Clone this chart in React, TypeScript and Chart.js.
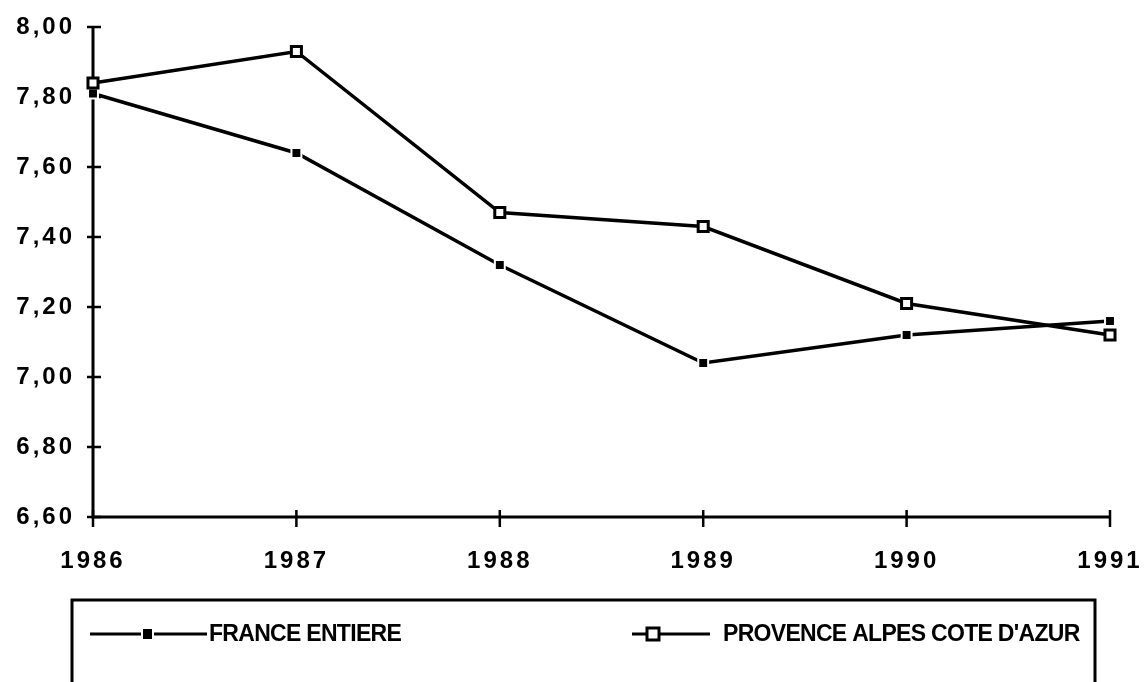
import React, { useEffect, useRef } from 'react';
import { Chart, registerables } from 'chart.js';

Chart.register(...registerables);

const years = ['1986', '1987', '1988', '1989', '1990', '1991'];
const franceEntiere = [7.81, 7.64, 7.32, 7.04, 7.12, 7.16];
const provenceAlpesCoteDAzur = [7.84, 7.93, 7.47, 7.43, 7.21, 7.12];
const seriesLabels = ['FRANCE ENTIERE', "PROVENCE ALPES COTE D'AZUR"];
const yMin = 6.6;
const yMax = 8.0;
const yStep = 0.2;

const W = 1148;
const H = 682;
const AREA_LEFT = 93;
const AREA_RIGHT = 1110;
const AREA_TOP = 27;
const AREA_BOTTOM = 517;

const spacingPlugin = {
  id: 'letterSpacing',
  beforeLayout(chart: any) {
    chart.ctx.letterSpacing = '3px';
  },
  beforeDraw(chart: any) {
    chart.ctx.letterSpacing = '3px';
  },
};

const axesPlugin = {
  id: 'crossAxes',
  beforeDatasetsDraw(chart: any) {
    const { ctx, chartArea, scales } = chart;
    const x = scales.x;
    const y = scales.y;
    ctx.save();
    ctx.strokeStyle = '#000';
    ctx.lineWidth = 3;
    ctx.beginPath();
    ctx.moveTo(chartArea.left, y.getPixelForValue(yMax));
    ctx.lineTo(chartArea.left, chartArea.bottom);
    ctx.lineTo(chartArea.right, chartArea.bottom);
    ctx.stroke();
    ctx.lineWidth = 2.5;
    ctx.beginPath();
    y.ticks.forEach((_t: any, i: number) => {
      const py = y.getPixelForTick(i);
      ctx.moveTo(chartArea.left - 6, py);
      ctx.lineTo(chartArea.left + 8, py);
    });
    x.ticks.forEach((_t: any, i: number) => {
      const px = x.getPixelForTick(i);
      ctx.moveTo(px, chartArea.bottom - 7);
      ctx.lineTo(px, chartArea.bottom + 10);
    });
    ctx.stroke();
    ctx.restore();
  },
};

const legendPlugin = {
  id: 'boxLegend',
  afterDraw(chart: any) {
    const { ctx } = chart;
    ctx.save();
    ctx.letterSpacing = '0px';
    ctx.strokeStyle = '#000';
    ctx.lineWidth = 3;
    ctx.strokeRect(72, 600, 1095 - 72, 140);

    const cy = 634;
    ctx.lineWidth = 3;
    // France sample
    ctx.beginPath();
    ctx.moveTo(90, cy);
    ctx.lineTo(207, cy);
    ctx.stroke();
    ctx.fillStyle = '#fff';
    ctx.fillRect(141, cy - 7, 13, 13);
    ctx.fillStyle = '#000';
    ctx.fillRect(143, cy - 5, 9, 10);
    // PACA sample
    ctx.beginPath();
    ctx.moveTo(632, cy);
    ctx.lineTo(710, cy);
    ctx.stroke();
    ctx.fillStyle = '#fff';
    ctx.fillRect(647, cy - 6, 12, 12);
    ctx.lineWidth = 3;
    ctx.strokeRect(647, cy - 6, 12, 12);

    ctx.fillStyle = '#000';
    ctx.font = 'bold 23px "Liberation Sans", Arial, sans-serif';
    ctx.letterSpacing = '-0.7px';
    ctx.textBaseline = 'middle';
    ctx.textAlign = 'left';
    ctx.fillText(seriesLabels[0], 209, cy + 1);
    ctx.fillText(seriesLabels[1], 723, cy + 1);
    ctx.restore();
  },
};

export default function App() {
  const canvasRef = useRef<HTMLCanvasElement | null>(null);

  useEffect(() => {
    const canvas = canvasRef.current;
    if (!canvas) return;
    const tickFont = { family: '"Liberation Sans", Arial, sans-serif', size: 24, weight: 'bold' };
    const chart = new Chart(canvas, {
      type: 'line',
      data: {
        labels: years,
        datasets: [
          {
            label: seriesLabels[0],
            data: franceEntiere,
            borderColor: '#000',
            borderWidth: 3.5,
            tension: 0,
            pointStyle: 'rect',
            pointRadius: 7,
            pointBackgroundColor: '#000',
            pointBorderColor: '#fff',
            pointBorderWidth: 2,
            clip: false,
            order: 1,
          },
          {
            label: seriesLabels[1],
            data: provenceAlpesCoteDAzur,
            borderColor: '#000',
            borderWidth: 3.5,
            tension: 0,
            pointStyle: 'rect',
            pointRadius: 7.1,
            pointBackgroundColor: '#fff',
            pointBorderColor: '#000',
            pointBorderWidth: 3,
            clip: false,
            order: 0,
          },
        ],
      },
      options: {
        responsive: false,
        animation: false,
        devicePixelRatio: 1,
        layout: {
          padding: { left: 0, top: AREA_TOP, right: W - AREA_RIGHT, bottom: 0 },
        },
        plugins: {
          legend: { display: false },
          tooltip: { enabled: false },
          title: { display: false },
        },
        scales: {
          x: {
            type: 'category',
            offset: false,
            grid: { display: false, drawTicks: false },
            border: { display: false },
            ticks: {
              color: '#000',
              font: tickFont,
              padding: 30,
              autoSkip: false,
              maxRotation: 0,
              minRotation: 0,
            },
            afterFit: (scale: any) => {
              scale.height = H - AREA_BOTTOM;
              scale.paddingLeft = 0;
              scale.paddingRight = 0;
            },
          },
          y: {
            type: 'linear',
            min: yMin,
            max: yMax,
            grid: { display: false, drawTicks: false },
            border: { display: false },
            ticks: {
              stepSize: yStep,
              color: '#000',
              font: tickFont,
              padding: 18,
              callback: (v: any) => Number(v).toFixed(2).replace('.', ','),
            },
            afterFit: (scale: any) => {
              scale.width = AREA_LEFT;
              scale.paddingTop = 0;
              scale.paddingBottom = 0;
            },
          },
        },
      },
      plugins: [spacingPlugin, axesPlugin, legendPlugin],
    } as any);
    return () => chart.destroy();
  }, []);

  return (
    <div style={{ position: 'absolute', left: 0, top: 0, width: W, height: H, background: '#fff' }}>
      <canvas ref={canvasRef} width={W} height={H} style={{ display: 'block' }} />
    </div>
  );
}
